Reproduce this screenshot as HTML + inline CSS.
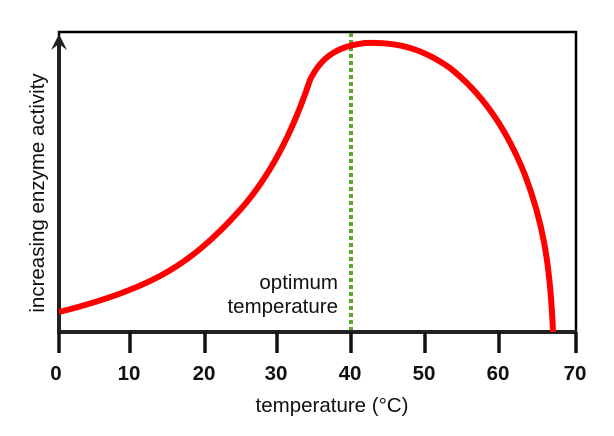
<!DOCTYPE html>
<html><head><meta charset="utf-8"><style>body{margin:0;background:#fff}</style></head><body>
<svg width="614" height="431" viewBox="0 0 614 431" xmlns="http://www.w3.org/2000/svg" font-family="Liberation Sans, Arial, sans-serif">
<rect x="0" y="0" width="614" height="431" fill="#fff"/>
<rect x="59" y="32" width="517" height="300" fill="none" stroke="#000" stroke-width="2.5"/>
<line x1="59" y1="332" x2="577" y2="332" stroke="#222" stroke-width="4"/>
<line x1="59" y1="333" x2="59" y2="40" stroke="#222" stroke-width="4"/>
<path d="M51 50 L59 34 L67 50 L59 44 Z" fill="#222"/>
<g stroke="#111" stroke-width="3.5">
<line x1="59" y1="332" x2="59" y2="353"/><line x1="130" y1="332" x2="130" y2="353"/><line x1="205" y1="332" x2="205" y2="353"/><line x1="277" y1="332" x2="277" y2="353"/><line x1="351" y1="332" x2="351" y2="353"/><line x1="425" y1="332" x2="425" y2="353"/><line x1="499" y1="332" x2="499" y2="353"/><line x1="576" y1="332" x2="576" y2="353"/>
</g>
<g font-size="20.5" font-weight="bold" fill="#111" text-anchor="middle">
<text x="56" y="380">0</text><text x="129" y="380">10</text><text x="204" y="380">20</text><text x="276" y="380">30</text><text x="350" y="380">40</text><text x="424" y="380">50</text><text x="498" y="380">60</text><text x="575" y="380">70</text>
</g>
<text x="332" y="412" font-size="20.5" text-anchor="middle" fill="#111">temperature (°C)</text>
<text transform="translate(44,193) rotate(-90)" font-size="20.5" text-anchor="middle" fill="#111">increasing enzyme activity</text>
<line x1="351" y1="33" x2="351" y2="330" stroke="#5fa62e" stroke-width="4" stroke-dasharray="4,3"/>
<text x="338" y="289" font-size="20.5" text-anchor="end" fill="#111">optimum</text>
<text x="338" y="313" font-size="20.5" text-anchor="end" fill="#111">temperature</text>
<path d="M59 312 C95 303 130 292 160 276 C190 260 215 238 240 210 C265 182 290 140 310 80 C322 55 340 46 365 43 C395 42 420 47 450 68 C480 92 505 125 525 175 C542 220 550 260 553 332" fill="none" stroke="#ff0000" stroke-width="6"/>
</svg>
</body></html>
